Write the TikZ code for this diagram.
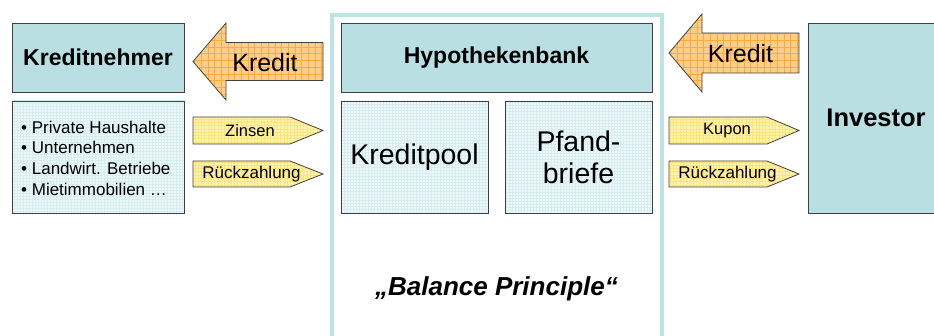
\documentclass[tikz,border=0pt]{standalone}
\usepackage{fontspec}
\setmainfont{Liberation Sans}
\begin{document}
\begin{tikzpicture}[x=1pt,y=-1pt,
  outline/.style={draw=black!75,line width=0.8pt},
  tealbox/.style={outline,fill=tealfill,minimum width=#1,inner sep=0pt},
  gridded/.style n args={3}{fill=#1,path picture={\draw[#2,line width=0.35pt,step=#3]
      ([xshift=-20pt,yshift=-20pt]path picture bounding box.south west) grid
      ([xshift=20pt,yshift=20pt]path picture bounding box.north east);}},
  lightbox/.style={outline,gridded={lightfill}{lightgrid}{3pt},inner sep=0pt},
  bigarrow/.style={outline,gridded={orangefill}{orangegrid}{6.7pt}},
  smallarrow/.style={outline,gridded={yellowfill}{yellowgrid}{3.3pt}},
  lbl/.style={inner sep=0pt,text=black}
]
\definecolor{tealfill}{RGB}{185,223,227}
\definecolor{lightfill}{RGB}{238,248,250}
\definecolor{lightgrid}{RGB}{214,237,241}
\definecolor{orangefill}{RGB}{255,206,140}
\definecolor{orangegrid}{RGB}{255,170,60}
\definecolor{yellowfill}{RGB}{255,244,178}
\definecolor{yellowgrid}{RGB}{255,228,125}
\definecolor{framecol}{RGB}{190,226,230}
\useasboundingbox (0,0) rectangle (934,336);
\fill[white] (0,0) rectangle (934,336);

% outer frame of the bank
\draw[framecol,line width=4pt] (332,345) -- (332,15) -- (662,15) -- (662,345);

% boxes
\node[tealbox=172pt,minimum height=69pt,font=\bfseries\fontsize{23}{26}\selectfont] (kn) at (98,57.5) {Kreditnehmer};
\node[lightbox,minimum width=172pt,minimum height=112pt] (list) at (98,157) {};
\node[lbl,anchor=west,align=left,font=\fontsize{17}{20.7}\selectfont] (listtext) at (21,158)
  {• Private Haushalte\\• Unternehmen\\• Landwirt. Betriebe\\• Mietimmobilien …};

\node[tealbox=311pt,minimum height=69pt,font=\bfseries\fontsize{23}{26}\selectfont] (hb) at (496.5,57.5) {Hypothekenbank};
\node[lightbox,minimum width=147pt,minimum height=112pt,font=\fontsize{28.5}{32}\selectfont] (pool) at (414.5,157) {Kreditpool};
\node[lightbox,minimum width=147pt,minimum height=112pt,align=center,font=\fontsize{28.5}{32}\selectfont] (pf) at (578.5,157) {Pfand-\\briefe};

\node[tealbox=136pt,minimum height=190pt,font=\bfseries\fontsize{25.5}{28}\selectfont] (inv) at (876,118) {Investor};

\node[lbl,font=\bfseries\itshape\fontsize{26}{29}\selectfont] (bal) at (496.5,289) {„Balance Principle“};

% big Kredit arrows
\draw[bigarrow] (193,61.5) -- (226,23) -- (226,42.5) -- (323,42.5) -- (323,80.5) -- (226,80.5) -- (226,100) -- cycle;
\node[lbl,font=\fontsize{25}{28}\selectfont] (k1) at (265,63) {Kredit};
\draw[bigarrow] (669,53) -- (702,14) -- (702,33) -- (799,33) -- (799,73) -- (702,73) -- (702,92) -- cycle;
\node[lbl,font=\fontsize{25}{28}\selectfont] (k2) at (740.5,54) {Kredit};

% small arrows left
\draw[smallarrow] (193,117) -- (290,117) -- (323,130.5) -- (290,144) -- (193,144) -- cycle;
\node[lbl,font=\fontsize{16.5}{19}\selectfont] (z) at (250,131) {Zinsen};
\draw[smallarrow] (193,161) -- (290,161) -- (323,174) -- (290,187) -- (193,187) -- cycle;
\node[lbl,font=\fontsize{17}{19}\selectfont] (r1) at (251.5,174.5) {Rückzahlung};

% small arrows right
\draw[smallarrow] (669,117) -- (767,117) -- (799,130.5) -- (767,144) -- (669,144) -- cycle;
\node[lbl,font=\fontsize{16.5}{19}\selectfont] (ku) at (727,131) {Kupon};
\draw[smallarrow] (669,161) -- (767,161) -- (799,174) -- (767,187) -- (669,187) -- cycle;
\node[lbl,font=\fontsize{17}{19}\selectfont] (r2) at (727.5,174.5) {Rückzahlung};
\end{tikzpicture}
\end{document}
